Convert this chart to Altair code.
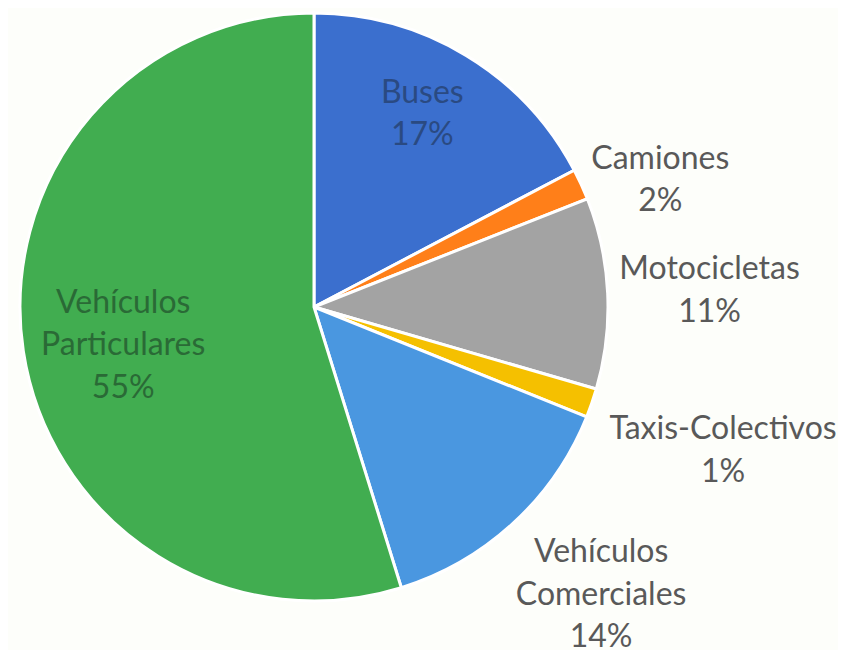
import altair as alt
import pandas as pd

# ---- data ----
categories = ["Buses", "Camiones", "Motocicletas", "Taxis-Colectivos",
              "Vehículos Comerciales", "Vehículos Particulares"]
shares = [17.3, 1.7, 10.5, 1.6, 14.1, 54.8]
pct_labels = ["17%", "2%", "11%", "1%", "14%", "55%"]
label_names = ["Buses", "Camiones", "Motocicletas", "Taxis-Colectivos",
               "Vehículos\nComerciales", "Vehículos\nParticulares"]

# ---- style ----
colors = ["#3B6FCE", "#FF7F19", "#A3A3A3", "#F5C000", "#4A97E0", "#41AD50"]
CX, CY, R = 306, 299, 294
FONT = "Lato"
LH = 42.5
# label placement: radius, dx, dy, colour
label_layout = {
    "Buses": (221, -6, -4 - LH / 2, "#2A4A82"),
    "Camiones": (369, 11, 27 - LH / 2, "#595959"),
    "Motocicletas": (396, 0, 2 - LH / 2, "#595959"),
    "Taxis-Colectivos": (436, -3, 1 - LH / 2, "#595959"),
    "Vehículos Comerciales": (406, 12, -11 - LH, "#595959"),
    "Vehículos Particulares": (195, 2, 9 - LH, "#2A6A36"),
}

df = pd.DataFrame({
    "idx": list(range(len(categories))),
    "category": categories,
    "value": shares,
    "label": [f"{n}\n{p}" for n, p in zip(label_names, pct_labels)],
})

total = sum(shares)
theta_scale = alt.Scale(domain=[0, total])

base = alt.Chart(df)

pie = base.mark_arc(outerRadius=R, stroke="white", strokeWidth=3).encode(
    theta=alt.Theta("value:Q", stack=True, scale=theta_scale),
    order=alt.Order("idx:Q"),
    color=alt.Color("category:N", scale=alt.Scale(domain=categories, range=colors), legend=None),
    x=alt.value(CX),
    y=alt.value(CY),
)

layers = [pie]
for cat in categories:
    r, dx, dy, col = label_layout[cat]
    t = (
        base.transform_window(cum="sum(value)", sort=[alt.SortField("idx")])
        .transform_calculate(mid="datum.cum - datum.value / 2")
        .transform_filter(alt.datum.category == cat)
        .mark_text(radius=r, dx=dx, dy=dy, font=FONT, fontSize=32, lineBreak="\n",
                   lineHeight=LH, color=col, align="center", baseline="middle")
        .encode(
            theta=alt.Theta("mid:Q", scale=theta_scale),
            text="label:N",
            x=alt.value(CX),
            y=alt.value(CY),
        )
    )
    layers.append(t)

chart = alt.layer(*layers).properties(
    width=830, height=642, autosize=alt.AutoSizeParams(type="none"), padding=0,
    background="#FDFEFA",
).configure_view(stroke=None)

chart.save("out.html", embed_options={"renderer": "svg", "actions": False})
